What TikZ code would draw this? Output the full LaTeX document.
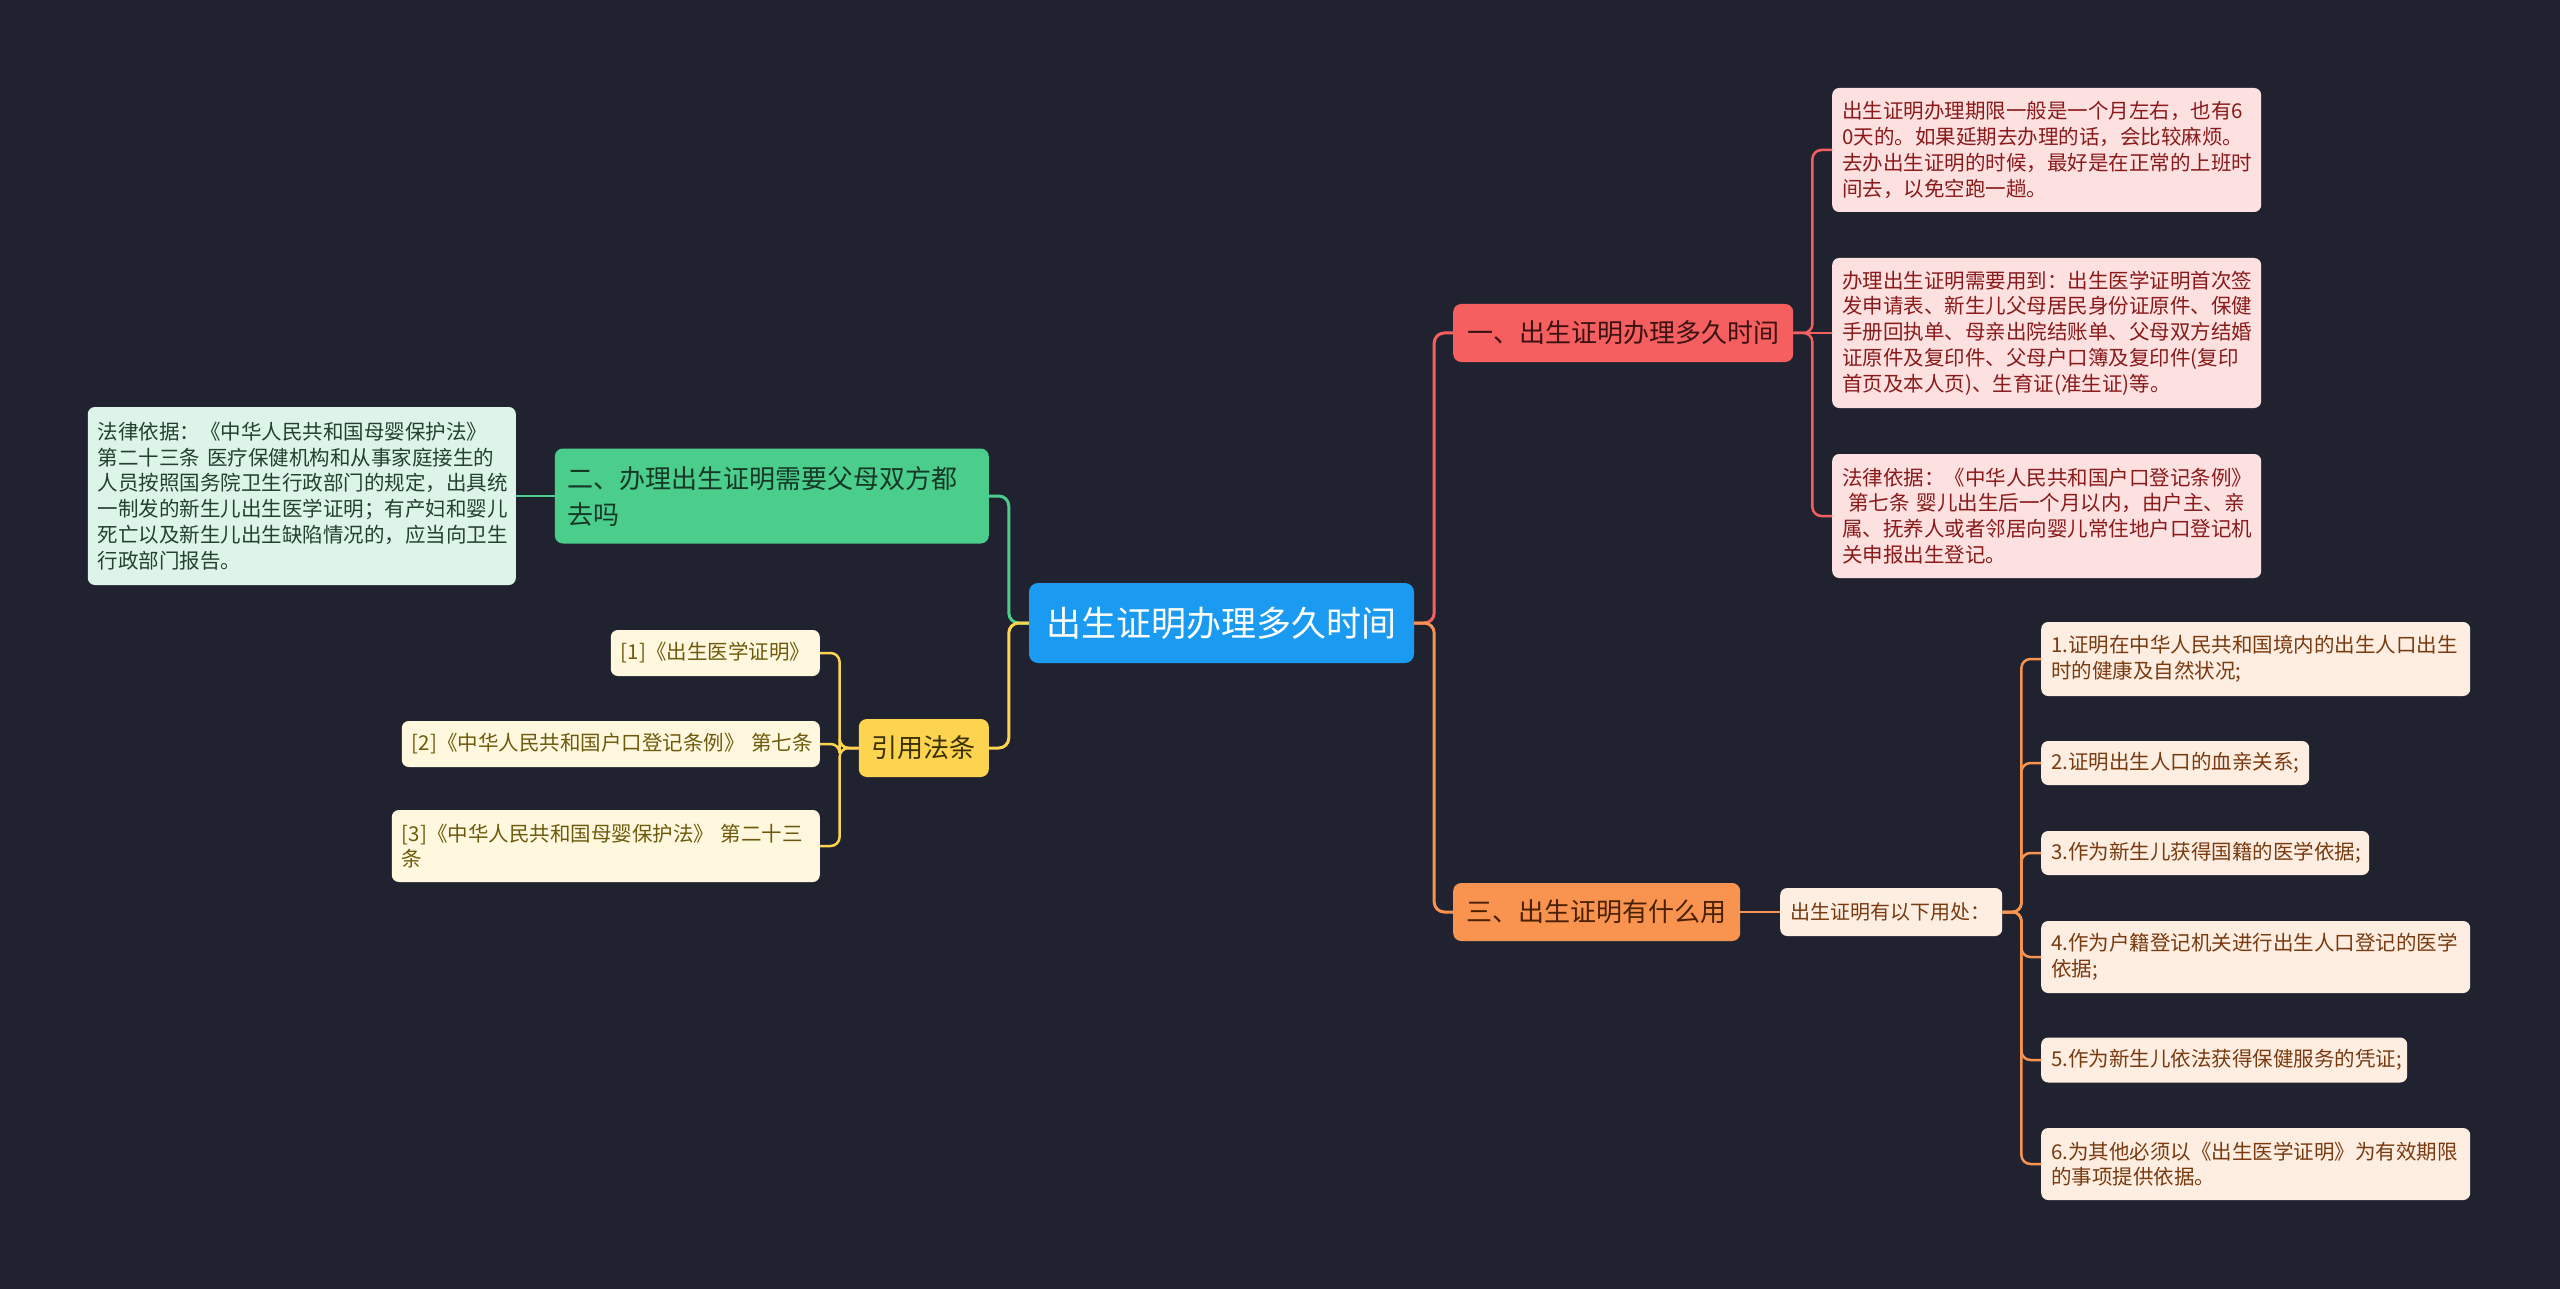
\documentclass[tikz,border=0pt]{standalone}
\usepackage{fontspec}
\setmainfont{Noto Sans CJK SC}
\definecolor{bgdark}{HTML}{20232F}
\definecolor{rootblue}{HTML}{1A9AF0}
\definecolor{redmain}{HTML}{F65F5F}
\definecolor{redleaf}{HTML}{FDE1E1}
\definecolor{redtext}{HTML}{8A1A1A}
\definecolor{reddark}{HTML}{3B1212}
\definecolor{greenmain}{HTML}{4BCD8B}
\definecolor{greenleaf}{HTML}{DDF5E9}
\definecolor{greentext}{HTML}{24402F}
\definecolor{greendark}{HTML}{163826}
\definecolor{yellowmain}{HTML}{FDD44F}
\definecolor{yellowleaf}{HTML}{FFF8DE}
\definecolor{yellowtext}{HTML}{6E5A0C}
\definecolor{yellowdark}{HTML}{3A3000}
\definecolor{orangemain}{HTML}{F8944F}
\definecolor{orangeleaf}{HTML}{FDEEE1}
\definecolor{orangetext}{HTML}{7A3A10}
\definecolor{orangedark}{HTML}{4A2000}
\begin{document}
\begin{tikzpicture}[x=1pt,y=-1pt,
  root/.style={fill=rootblue,text=white,rounded corners=9pt,minimum width=385pt,minimum height=80pt,inner sep=0pt,font=\fontsize{35}{40}\selectfont},
  topic/.style={rounded corners=8pt,minimum height=58pt,inner xsep=13pt,inner ysep=0pt,font=\fontsize{26}{36}\selectfont},
  leaf/.style={rounded corners=7pt,align=left,inner xsep=10pt,inner ysep=0pt,font=\fontsize{20.5}{25.7}\selectfont},
  rleaf/.style={leaf,fill=redleaf,text=redtext,anchor=west},
  gleaf/.style={leaf,fill=greenleaf,text=greentext,anchor=east},
  yleaf/.style={leaf,fill=yellowleaf,text=yellowtext,anchor=east},
  oleaf/.style={leaf,fill=orangeleaf,text=orangetext,anchor=west},
  link/.style={line width=3pt,rounded corners=10pt},
  leaflink/.style={line width=2.5pt,rounded corners=9pt}]
  \useasboundingbox (0,0) rectangle (2560,1289);
  \fill[bgdark] (0,0) rectangle (2560,1289);
  % root and first level
  \node[root] (root) at (1221.5,623){出生证明办理多久时间};
  \node[topic,fill=redmain,text=reddark,anchor=west,minimum width=340pt] (one) at (1453,333){一、出生证明办理多久时间};
  \node[topic,fill=greenmain,text=greendark,anchor=east,minimum height=95pt,text width=408pt,align=left] (two) at (989,496){二、办理出生证明需要父母双方都\\去吗};
  \node[topic,fill=yellowmain,text=yellowdark,anchor=east,minimum width=129pt] (cite) at (989,748){引用法条};
  \node[topic,fill=orangemain,text=orangedark,anchor=west,minimum width=287pt] (three) at (1453,912){三、出生证明有什么用};
  % red leaves
  \node[rleaf,text width=409pt,minimum height=124pt] (r1) at (1832,150){出生证明办理期限一般是一个月左右，也有6\\0天的。如果延期去办理的话，会比较麻烦。\\去办出生证明的时候，最好是在正常的上班时\\间去，以免空跑一趟。};
  \node[rleaf,text width=409pt,minimum height=150pt] (r2) at (1832,333){办理出生证明需要用到：出生医学证明首次签\\发申请表、新生儿父母居民身份证原件、保健\\手册回执单、母亲出院结账单、父母双方结婚\\证原件及复印件、父母户口簿及复印件(复印\\首页及本人页)、生育证(准生证)等。};
  \node[rleaf,text width=409pt,minimum height=124pt] (r3) at (1832,516){法律依据：《中华人民共和国户口登记条例》\\\hspace*{0.3em}第七条~婴儿出生后一个月以内，由户主、亲\\属、抚养人或者邻居向婴儿常住地户口登记机\\关申报出生登记。};
  % green leaf
  \node[gleaf,text width=408pt,minimum height=178pt] (g1) at (516,496){法律依据：《中华人民共和国母婴保护法》\\第二十三条~医疗保健机构和从事家庭接生的\\人员按照国务院卫生行政部门的规定，出具统\\一制发的新生儿出生医学证明；有产妇和婴儿\\死亡以及新生儿出生缺陷情况的，应当向卫生\\行政部门报告。};
  % yellow leaves
  \node[yleaf,text width=189pt,minimum height=46pt] (y1) at (820,653){[1]《出生医学证明》};
  \node[yleaf,text width=398pt,minimum height=46pt] (y2) at (820,744){[2]《中华人民共和国户口登记条例》~第七条};
  \node[yleaf,text width=408pt,minimum height=72pt] (y3) at (820,846){[3]《中华人民共和国母婴保护法》~第二十三\\条};
  % orange leaves
  \node[oleaf,text width=202pt,minimum height=48pt,font=\fontsize{20}{25}\selectfont] (mid) at (1780,912){出生证明有以下用处：};
  \node[oleaf,text width=409pt,minimum height=74pt] (o1) at (2041,659){1.证明在中华人民共和国境内的出生人口出生\\时的健康及自然状况;};
  \node[oleaf,text width=248pt,minimum height=44pt] (o2) at (2041,763){2.证明出生人口的血亲关系;};
  \node[oleaf,text width=308pt,minimum height=44pt] (o3) at (2041,853){3.作为新生儿获得国籍的医学依据;};
  \node[oleaf,text width=409pt,minimum height=72pt] (o4) at (2041,957){4.作为户籍登记机关进行出生人口登记的医学\\依据;};
  \node[oleaf,text width=346pt,minimum height=45pt] (o5) at (2041,1060){5.作为新生儿依法获得保健服务的凭证;};
  \node[oleaf,text width=409pt,minimum height=72pt] (o6) at (2041,1164){6.为其他必须以《出生医学证明》为有效期限\\的事项提供依据。};
  % connectors
  \draw[link,redmain] (root.east) -- ++(20,0) |- (one.west);
  \draw[link,orangemain] (root.east) -- ++(20,0) |- (three.west);
  \draw[link,greenmain] (root.west) -- ++(-20,0) |- (two.east);
  \draw[link,yellowmain] (root.west) -- ++(-20,0) |- (cite.east);
  \draw[leaflink,redmain] (one.east) -- ++(19,0) |- (r1.west);
  \draw[leaflink,redmain] (one.east) -- (r2.west);
  \draw[leaflink,redmain] (one.east) -- ++(19,0) |- (r3.west);
  \draw[leaflink,greenmain] (two.west) -- (g1.east);
  \foreach \n in {y1,y2,y3}
    \draw[leaflink,yellowmain] (cite.west) -- ++(-19,0) |- (\n.east);
  \draw[leaflink,orangemain] (three.east) -- (mid.west);
  \foreach \n in {o1,o2,o3,o4,o5,o6}
    \draw[leaflink,orangemain] (mid.east) -- ++(19,0) |- (\n.west);
\end{tikzpicture}
\end{document}
